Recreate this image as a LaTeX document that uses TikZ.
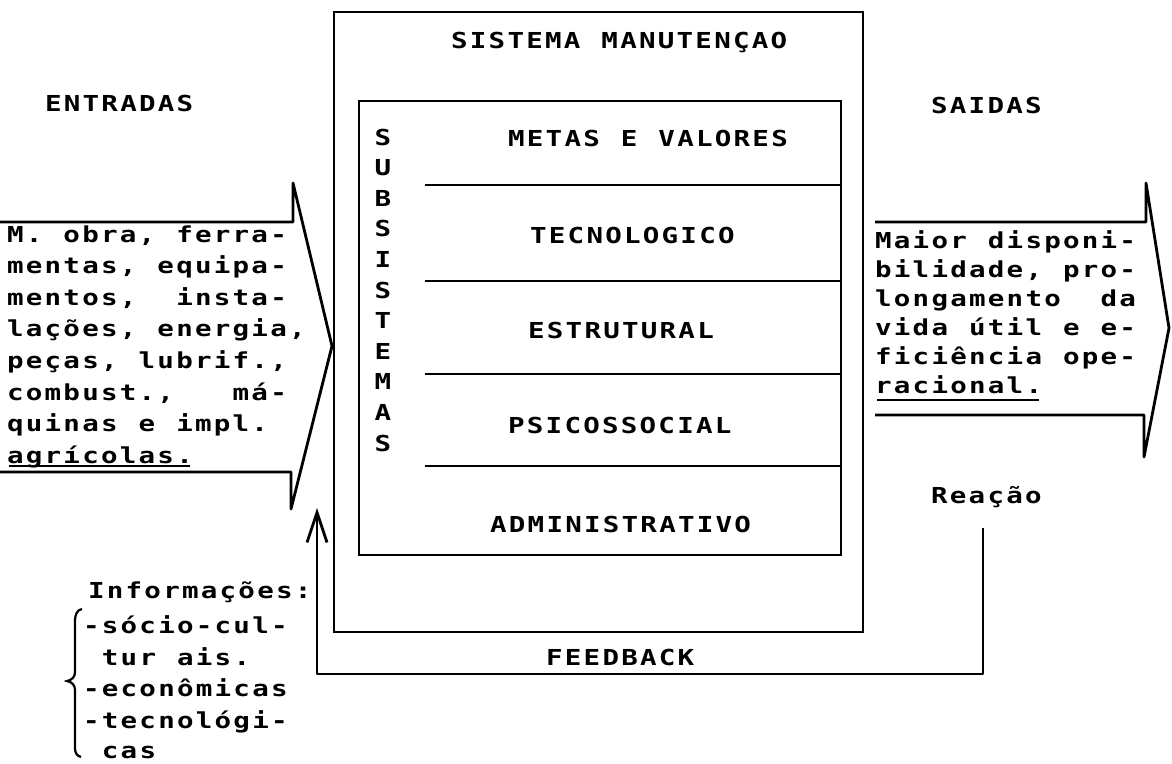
\documentclass[tikz,border=0pt]{standalone}
\usepackage{fontspec}
\usetikzlibrary{arrows.meta}
\newfontfamily\pfam{DejaVu Sans Mono}[FakeStretch=1.25]
\newcommand\pf{\pfam\bfseries\fontsize{22pt}{26pt}\selectfont}
\ExplSyntaxOn
\dim_new:N \l_mypitch_dim
\dim_set:Nn \l_mypitch_dim {18.8pt}
\NewDocumentCommand \mt { m }
  {
    \tl_map_inline:nn {#1} { \hbox_to_wd:nn { \l_mypitch_dim } { \hfil ##1 \hfil } }
  }
\ExplSyntaxOff
\tikzset{
  txt/.style={inner sep=0pt, outer sep=0pt, text height=16pt, text depth=0pt, font=\pf},
  lt/.style={txt, anchor=west},
  ln/.style={line width=2.8pt, line join=round},
  uln/.style={line width=2.2pt},
  boxn/.style={draw, line width=2.8pt, inner sep=0pt, outer sep=0pt},
}
\begin{document}
\begin{tikzpicture}[x=1pt,y=-1pt]
\useasboundingbox (0,0) rectangle (1172,763);
% boxes
\node[boxn, minimum width=529pt, minimum height=620pt] (outer) at (598.5,322) {};
\node[boxn, minimum width=482pt, minimum height=454pt] (inner) at (600,328) {};
% separators
\foreach \yy in {185,281,374,466} \draw[ln] (425,\yy) -- (841,\yy);
% titles
\node[lt] (ttl) at (450,40) {\mt{SISTEMA~MANUTENÇAO}};
\node[lt] (ent) at (44,103) {\mt{ENTRADAS}};
\node[lt] (sai) at (930,105) {\mt{SAIDAS}};
% subsystems
\node[lt] (s1) at (507,138) {\mt{METAS~E~VALORES}};
\node[lt] (s2) at (529,235) {\mt{TECNOLOGICO}};
\node[lt] (s3) at (527,330) {\mt{ESTRUTURAL}};
\node[lt] (s4) at (507,425) {\mt{PSICOSSOCIAL}};
\node[lt] (s5) at (489,524) {\mt{ADMINISTRATIVO}};
\foreach \c [count=\i from 0] in {S,U,B,S,I,S,T,E,M,A,S}
  \node[txt] (sub\i) at (383,137+30.6*\i) {\c};
% left arrow
\draw[ln] (0,222) -- (293,222) -- (293,183) -- (332,346) -- (291,509) -- (291,472) -- (0,472);
\node[lt] (l1) at (6,234) {\mt{M.~obra,~ferra-}};
\node[lt] (l2) at (6,265.6) {\mt{mentas,~equipa-}};
\node[lt] (l3) at (6,297.2) {\mt{mentos,~~insta-}};
\node[lt] (l4) at (6,328.8) {\mt{lações,~energia,}};
\node[lt] (l5) at (6,360.4) {\mt{peças,~lubrif.,}};
\node[lt] (l6) at (6,392) {\mt{combust.,~~~má-}};
\node[lt] (l7) at (6,423.6) {\mt{quinas~e~impl.}};
\node[lt] (l8) at (6,455.2) {\mt{agrícolas.}};
\draw[uln] ([xshift=3pt,yshift=-3pt]l8.south west) -- ([xshift=-4pt,yshift=-3pt]l8.south east);
% right arrow
\draw[ln] (875,222) -- (1146,222) -- (1146,183) -- (1169,328) -- (1144,457) -- (1144,415) -- (875,415);
\node[lt] (r1) at (874,240) {\mt{Maior~disponi-}};
\node[lt] (r2) at (874,269) {\mt{bilidade,~pro-}};
\node[lt] (r3) at (874,298) {\mt{longamento~~da}};
\node[lt] (r4) at (874,327) {\mt{vida~útil~e~e-}};
\node[lt] (r5) at (874,356) {\mt{ficiência~ope-}};
\node[lt] (r6) at (874,385) {\mt{racional.}};
\draw[uln] ([xshift=3pt,yshift=-7pt]r6.south west) -- ([xshift=-4pt,yshift=-7pt]r6.south east);
% informations
\node[lt] (i0) at (87,590) {\mt{Informações:}};
\node[lt] (i1) at (82,625) {\mt{-sócio-cul-}};
\node[lt] (i2) at (82,657) {\mt{~tur~ais.}};
\node[lt] (i3) at (82,688) {\mt{-econômicas}};
\node[lt] (i4) at (82,720) {\mt{-tecnológi-}};
\node[lt] (i5) at (82,750) {\mt{~cas}};
\draw[uln] (82,609) .. controls (77,610) and (75,614) .. (75,622) -- (75,672)
  .. controls (75,677) and (72,680) .. (67,681) .. controls (72,682) and (75,685) .. (75,690)
  -- (75,748) .. controls (75,753) and (77,756) .. (81,757);
% reaction / feedback
\node[lt] (rea) at (930,495) {\mt{Reação}};
\node[lt] (fbk) at (545,657) {\mt{FEEDBACK}};
\coordinate (fbs) at (983,528);
\coordinate (fbc1) at (983,674);
\coordinate (fbc2) at (317,674);
\coordinate (fbtip) at (317,508);
\draw[ln, -{Straight Barb[length=30pt,width=20pt]}] (fbs) -- (fbc1) -- (fbc2) -- (fbtip);
\end{tikzpicture}
\end{document}
